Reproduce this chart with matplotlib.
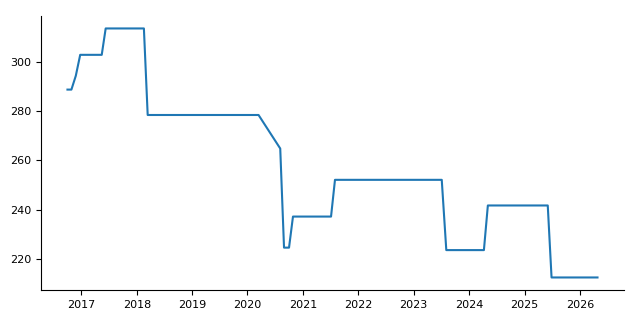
import matplotlib
matplotlib.use('Agg')
import matplotlib.pyplot as plt
import matplotlib.dates as mdates
import pandas as pd

dates = ['2016-10-01', '2016-10-27', '2016-11-25', '2016-12-24', '2017-05-15',
         '2017-06-10', '2018-02-17', '2018-03-14', '2020-03-14', '2020-08-04',
         '2020-08-29', '2020-10-01', '2020-10-27', '2021-07-05', '2021-07-31',
         '2023-07-05', '2023-08-04', '2024-04-08', '2024-05-04', '2025-06-03',
         '2025-06-28', '2026-04-27']
values = [288.7, 288.7, 294.3, 302.8, 302.8, 313.5, 313.5, 278.4, 278.4, 264.8,
          224.6, 224.6, 237.2, 237.2, 252.1, 252.1, 223.6, 223.6, 241.7, 241.7,
          212.5, 212.5]

x = pd.to_datetime(dates)

fig = plt.figure(figsize=(6.4, 3.2), dpi=100)
ax = fig.add_axes([0.064, 0.094, 0.911, 0.856])
ax.plot(x, values, color='#1f77b4', linewidth=1.5)

ax.xaxis.set_major_locator(mdates.YearLocator())
ax.xaxis.set_major_formatter(mdates.DateFormatter('%Y'))
ax.set_yticks([220, 240, 260, 280, 300])
ax.tick_params(labelsize=8)

# only left and bottom spines
ax.spines['top'].set_visible(False)
ax.spines['right'].set_visible(False)

fig.savefig('out.png', dpi=100)
